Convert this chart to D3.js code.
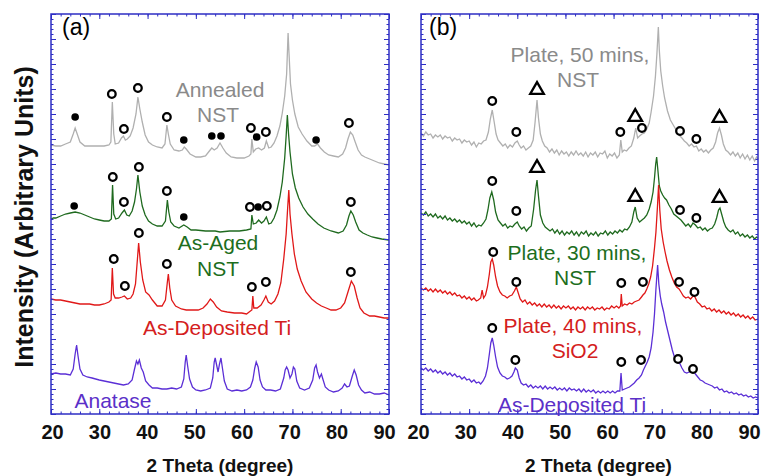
<!DOCTYPE html>
<html>
<head>
<meta charset="utf-8">
<script src="https://cdn.jsdelivr.net/npm/d3@7"></script>
<style>
  body { margin: 0; background: #fff; }
  svg { display: block; font-family: "Liberation Sans", Arial, sans-serif; }
</style>
</head>
<body>
<svg width="768" height="476"></svg>
<script>
// 2 theta tick labels
var thetaTicks = [20, 30, 40, 50, 60, 70, 80, 90]

// Panel (a) patterns, [2 theta, intensity]
var annealed = [[20,269],[21,268],[22,268],[23,270],[24,272],[24.6,280],[25,286],[25.5,279],[26,272],[27,268],[28,268],[29,268],[30,268],[31,268],[32,269],[32.4,272],[32.7,312],[33,280],[33.3,270],[34,271],[34.6,276],[35,278],[35.4,274],[35.8,275],[36.4,278],[37,286],[37.6,300],[38,317],[38.4,305],[38.9,292],[39.5,279],[40.2,272],[41,269],[42,267],[43,266],[43.6,270],[44,289],[44.3,280],[44.7,270],[45.5,264],[46.5,263],[47.2,264],[47.6,267],[48,265],[48.8,260],[50,257],[51,257],[52,258],[52.8,263],[53.3,266],[53.8,264],[54.4,266],[55,271],[55.6,266],[56.3,261],[57.3,257],[58.5,256],[60,256],[61,258],[61.4,260],[61.6,275],[61.9,262],[62.4,265],[63,266],[63.6,264],[64.2,266],[64.6,273],[65.1,266],[65.6,267],[66.2,271],[66.8,278],[67.4,288],[67.9,301],[68.4,318],[68.8,340],[69.1,381],[69.3,360],[69.6,330],[70,314],[70.5,300],[71.2,287],[72,280],[73,273],[74,268],[74.6,268],[75.2,270],[75.8,266],[76.6,262],[77.5,259],[78.5,258],[79.5,257],[80.4,260],[81,266],[81.5,275],[82,282],[82.5,279],[83,272],[83.6,264],[84.3,259],[85,257],[86,255],[87,253],[88,251],[89,250],[90,249]]
var asAged = [[20,195],[20.5,196],[21,196],[22,198],[23,200],[24,201],[25,202],[26,201],[27,199],[28,197],[29,195],[30,194],[31,193],[32,193],[32.5,195],[32.75,229],[33,200],[33.4,195],[34,196],[34.7,201],[35.2,204],[35.7,199],[36.2,198],[36.8,203],[37.3,212],[37.7,225],[38,239],[38.4,222],[38.9,208],[39.5,199],[40.2,193],[41,190],[42,188],[43,188],[43.7,193],[44.1,214],[44.4,202],[44.8,192],[45.5,188],[46.5,186],[47.5,189],[48.2,187],[49,184],[50,184],[52,183],[54,183],[55,182],[57,183],[59,183],[60.5,184],[61.4,185],[61.6,199],[61.9,190],[62.5,191],[63,194],[63.6,191],[64.1,193],[64.6,197],[65.1,190],[65.6,191],[66.2,196],[66.8,204],[67.4,217],[67.9,232],[68.4,256],[68.7,278],[68.95,299],[69.2,280],[69.5,262],[70,240],[70.6,226],[71.3,216],[72.2,207],[73.2,200],[74.2,195],[75.3,190],[76.5,186],[78,183],[79.5,181],[80.5,183],[81.2,189],[81.7,198],[82.1,203],[82.6,199],[83.1,192],[83.8,184],[84.6,181],[85.5,179],[86.5,177],[87.5,176],[88.5,175],[90,174]]
var depositedA = [[20,115],[21,114],[22,114],[23,113],[24,112],[25,111],[26,110],[27,110],[28,110],[29,109],[30,109],[31,110],[32,112],[32.45,114],[32.7,146],[32.95,120],[33.3,116],[34,116],[34.7,117],[35.2,118],[35.8,115],[36.5,116],[37,120],[37.5,130],[37.9,155],[38.15,171],[38.5,152],[39,134],[39.6,122],[40.3,119],[41,114],[42,108],[43,108],[43.7,114],[44.1,132],[44.3,140],[44.6,126],[45,114],[45.8,108],[47,105],[48,104],[49.5,104],[50.5,104],[51.5,106],[52.3,110],[53,115],[53.6,112],[54.3,107],[55.3,103],[56.5,102],[58,101],[59.5,101],[60.5,100],[61.3,103],[61.6,104],[61.8,118],[62,106],[62.7,106],[63.5,109],[64.1,114],[64.5,118],[65,112],[65.6,110],[66.3,113],[67,120],[67.6,131],[68.2,155],[68.7,180],[69,205],[69.25,224],[69.5,200],[69.9,180],[70.4,160],[71,145],[71.8,133],[72.8,122],[74,115],[75,111],[76,108],[77,106],[78,104],[79,104],[80,106],[80.8,111],[81.5,122],[82.2,133],[82.8,128],[83.4,116],[84,106],[84.8,101],[86,98],[87,98],[88,97],[89,96],[90,96]]
var anatase = [[20,40],[21,41],[22,40],[23,40],[24,39],[24.6,45],[25,60],[25.3,69],[25.6,58],[26,45],[26.6,39],[27.5,37],[28.5,36],[30,34],[31,33],[32,32],[33,31],[34,30],[35,29],[36,30],[36.8,34],[37.3,45],[37.7,53],[38,50],[38.3,54],[38.7,46],[39.1,42],[39.6,33],[40.3,29],[41,26],[42,26],[43,25],[44,25],[45,26],[46,25],[47,27],[47.5,35],[47.8,52],[48,59],[48.3,48],[48.7,35],[49.3,27],[50,24],[51,23],[52,24],[53,26],[53.5,36],[53.8,52],[54,56],[54.3,49],[54.6,42],[54.9,50],[55.2,56],[55.5,46],[55.9,33],[56.5,25],[57.5,23],[58.5,24],[59.5,23],[60.5,24],[61.3,27],[61.8,34],[62.2,46],[62.5,52],[62.9,47],[63.3,34],[63.8,27],[64.5,24],[65.5,24],[66.5,23],[67.5,25],[68.2,36],[68.5,44],[68.8,47],[69.1,44],[69.5,36],[69.9,40],[70.2,47],[70.5,45],[70.9,33],[71.5,26],[72.5,24],[73.5,26],[74.2,34],[74.6,46],[74.9,49],[75.2,42],[75.6,36],[76,40],[76.3,35],[76.8,27],[77.5,24],[78.5,22],[79.5,23],[80.3,26],[80.8,30],[81.3,27],[81.8,28],[82.4,38],[82.8,44],[83.2,39],[83.7,29],[84.3,24],[85,21],[86,22],[87,20],[88,20],[89,21],[90,19]]

// Panel (b) patterns
var plate50 = [[20,281],[20.5,278],[21,282],[21.5,279],[22,280],[22.5,276],[23,279],[23.5,277],[24,279],[24.5,275],[25,278],[25.5,276],[26,277],[26.5,273],[27,276],[27.5,274],[28,275],[28.5,271],[29,274],[29.5,272],[30,273],[30.5,269],[31,272],[31.5,267],[32,271],[32.5,270],[33,273],[33.5,274],[34,282],[34.4,295],[34.8,304],[35.2,292],[35.6,280],[36,274],[36.5,271],[37,268],[37.5,270],[38,266],[38.5,269],[39,267],[39.5,271],[40,273],[40.4,269],[40.8,266],[41.3,268],[41.8,264],[42.3,266],[42.8,268],[43.3,274],[43.7,292],[44.1,314],[44.4,296],[44.8,280],[45.2,273],[45.7,268],[46.2,266],[46.7,262],[47.2,265],[47.7,261],[48.2,264],[48.7,259],[49.2,263],[49.7,260],[50.2,262],[50.7,258],[51.2,262],[51.7,259],[52.2,263],[52.7,259],[53.2,261],[53.7,258],[54.2,262],[54.7,257],[55.2,261],[55.7,259],[56.2,262],[56.7,257],[57.2,261],[57.7,260],[58.2,263],[58.7,256],[59.2,260],[59.7,258],[60.2,261],[60.7,256],[61.2,259],[61.5,274],[61.8,262],[62.2,264],[62.7,263],[63.2,266],[63.7,268],[64.2,276],[64.6,286],[65,276],[65.4,278],[65.9,280],[66.4,281],[66.9,285],[67.4,291],[67.8,302],[68.3,318],[68.7,338],[69,360],[69.3,387],[69.5,364],[69.8,343],[70.2,328],[70.6,316],[71.2,303],[71.8,294],[72.4,289],[73,284],[73.6,279],[74.2,276],[74.7,273],[75.2,271],[75.7,268],[76.2,270],[76.7,267],[77.2,268],[77.7,263],[78.2,265],[78.7,262],[79.2,264],[79.7,261],[80.2,264],[80.7,266],[81.2,272],[81.6,281],[82,286],[82.4,279],[82.8,270],[83.3,264],[83.8,262],[84.3,259],[84.8,262],[85.3,258],[85.8,261],[86.3,256],[86.8,260],[87.3,255],[87.8,259],[88.3,254],[88.8,258],[89.3,253],[89.7,257],[90,255]]
var plate30 = [[20,201],[20.5,199],[21,202],[21.5,198],[22,200],[22.5,197],[23,200],[23.5,196],[24,198],[24.5,195],[25,198],[25.5,194],[26,196],[26.5,193],[27,195],[27.5,192],[28,194],[28.5,191],[29,193],[29.5,190],[30,192],[30.5,188],[31,191],[31.5,187],[32,189],[32.5,188],[33,191],[33.5,195],[33.9,204],[34.3,216],[34.7,222],[35.1,214],[35.5,202],[36,194],[36.5,191],[37,188],[37.5,190],[38,186],[38.5,188],[39,187],[39.5,190],[40,192],[40.4,188],[40.9,185],[41.4,187],[41.9,183],[42.4,186],[42.9,188],[43.4,205],[43.8,224],[44.1,234],[44.4,218],[44.8,199],[45.3,191],[45.8,187],[46.3,185],[46.8,183],[47.3,185],[47.8,181],[48.3,184],[48.8,180],[49.3,183],[49.8,179],[50.3,182],[50.8,180],[51.3,183],[51.8,179],[52.3,182],[52.8,178],[53.3,182],[53.8,180],[54.3,183],[54.8,178],[55.3,181],[55.8,179],[56.3,182],[56.8,178],[57.3,181],[57.8,180],[58.3,183],[58.8,179],[59.3,182],[59.8,180],[60.3,183],[60.8,181],[61.3,184],[61.8,182],[62.3,185],[62.8,184],[63.3,187],[63.8,192],[64.2,202],[64.5,207],[64.9,196],[65.4,192],[65.9,194],[66.4,196],[66.9,199],[67.4,205],[67.8,212],[68.2,222],[68.5,236],[68.75,250],[68.95,257],[69.2,244],[69.5,228],[69.8,223],[70.2,219],[70.6,216],[71,214],[71.5,209],[72,205],[72.5,200],[73,198],[73.5,196],[74,194],[74.5,191],[75,188],[75.5,190],[76,187],[76.5,191],[77,189],[77.5,186],[78,187],[78.5,184],[79,186],[79.5,183],[80,185],[80.5,186],[81,190],[81.4,196],[81.8,204],[82.1,206],[82.5,199],[82.9,192],[83.3,187],[83.8,184],[84.3,182],[84.8,184],[85.3,180],[85.8,182],[86.3,178],[86.8,180],[87.3,177],[87.8,179],[88.3,176],[88.8,178],[89.3,175],[89.7,177],[90,176]]
var plate40 = [[20,126],[20.5,124],[21,126],[21.5,123],[22,125],[22.5,122],[23,125],[23.5,122],[24,124],[24.5,121],[25,123],[25.5,120],[26,122],[26.5,119],[27,121],[27.5,118],[28,119],[28.5,116],[29,118],[29.5,115],[30,117],[30.5,114],[31,116],[31.5,113],[31.9,114],[32.4,116],[32.7,124],[33,116],[33.4,119],[33.8,127],[34.2,140],[34.5,152],[34.8,155],[35.1,149],[35.5,137],[35.9,128],[36.4,122],[36.9,119],[37.4,118],[37.9,116],[38.4,118],[38.9,119],[39.4,123],[39.8,127],[40.2,121],[40.6,115],[41.1,112],[41.6,114],[42.1,110],[42.6,112],[43.1,109],[43.6,111],[44.1,108],[44.6,110],[45.1,107],[45.6,110],[46.1,107],[46.6,109],[47.1,106],[47.6,109],[48.1,106],[48.6,108],[49.1,105],[49.6,108],[50.1,106],[50.6,108],[51.1,105],[51.6,107],[52.1,104],[52.6,107],[53.1,105],[53.6,107],[54.1,104],[54.6,107],[55.1,105],[55.6,107],[56.1,104],[56.6,106],[57.1,105],[57.6,107],[58.1,104],[58.6,106],[59.1,105],[59.6,108],[60.1,106],[60.6,108],[61.1,106],[61.45,108],[61.6,120],[61.8,108],[62.3,110],[62.8,109],[63.3,111],[63.8,110],[64.3,112],[64.8,113],[65.3,114],[65.8,117],[66.1,119],[66.5,121],[66.9,125],[67.3,130],[67.7,137],[68.1,148],[68.5,166],[68.8,182],[69.1,206],[69.35,229],[69.6,204],[69.9,185],[70.3,172],[70.7,162],[71.1,153],[71.6,144],[72.1,137],[72.6,131],[73.1,127],[73.6,125],[74,122],[74.5,118],[75,116],[75.5,117],[76,115],[76.5,118],[76.9,117],[77.4,112],[77.9,110],[78.4,107],[78.9,108],[79.4,105],[79.9,106],[80.4,103],[80.9,105],[81.4,102],[81.9,104],[82.4,101],[82.9,103],[83.4,100],[83.9,102],[84.4,99],[84.9,101],[85.4,98],[85.9,100],[86.4,97],[86.9,99],[87.4,96],[87.9,98],[88.4,95],[88.9,97],[89.4,94],[90,95]]
var depositedB = [[20,46],[20.5,44],[21,46],[21.5,43],[22,45],[22.5,42],[23,44],[23.5,41],[24,43],[24.5,40],[25,42],[25.5,39],[26,41],[26.5,38],[27,40],[27.5,37],[28,38],[28.5,35],[29,37],[29.5,34],[30,35],[30.5,32],[31,34],[31.5,31],[32,32],[32.4,30],[32.9,33],[33.4,38],[33.8,46],[34.2,60],[34.5,71],[34.8,76],[35.1,69],[35.5,57],[35.9,47],[36.4,41],[36.9,38],[37.4,37],[37.9,35],[38.4,36],[38.9,38],[39.3,42],[39.6,46],[40,44],[40.4,36],[40.8,31],[41.3,29],[41.8,30],[42.3,27],[42.8,29],[43.3,26],[43.8,28],[44.3,26],[44.8,28],[45.3,25],[45.8,28],[46.3,25],[46.8,27],[47.3,25],[47.8,27],[48.3,24],[48.8,26],[49.3,24],[49.8,26],[50.3,23],[50.8,26],[51.3,24],[51.8,25],[52.3,23],[52.8,25],[53.3,22],[53.8,25],[54.3,22],[54.8,24],[55.3,22],[55.8,24],[56.3,21],[56.8,23],[57.3,21],[57.8,23],[58.3,21],[58.8,23],[59.3,21],[59.8,23],[60.3,21],[60.8,23],[61.3,23],[61.55,41],[61.8,24],[62.3,25],[62.8,26],[63.3,27],[63.8,29],[64.3,31],[64.8,34],[65.3,36],[65.8,39],[66.2,44],[66.6,48],[67,52],[67.4,57],[67.8,66],[68.2,82],[68.5,100],[68.8,125],[69.15,149],[69.4,130],[69.7,118],[70,110],[70.4,102],[70.8,92],[71.2,84],[71.7,74],[72.2,64],[72.7,56],[73.2,53],[73.7,51],[74.2,46],[74.7,42],[75.2,41],[75.7,42],[76.2,43],[76.6,43],[77,40],[77.5,37],[78,34],[78.5,33],[79,31],[79.5,30],[80,29],[80.5,28],[81,26],[81.5,27],[82,24],[82.5,25],[83,22],[83.5,23],[84,21],[84.5,22],[85,20],[85.5,21],[86,19],[86.5,20],[87,18],[87.5,19],[88,17],[88.5,18],[89,16],[89.5,17],[90,16]]

// Phase markers: open circle, filled dot, triangle
var openA = [[32.6,320],[35.1,285],[38,326],[44,297],[61.4,286],[64.5,282],[81.7,291],
  [32.8,237],[35.1,212],[38.2,247],[44,223],[61.2,207],[64.7,208],[82.1,212],
  [33,155],[35.3,128],[38.2,181],[44,150],[61.6,127],[64.5,132],[82.1,142]]
var dotA = [[25,297],[47.5,274],[53.3,278],[55.2,278],[62.6,277],[74.9,274],
  [24.8,208],[47.5,197],[62.9,207]]
var openB = [[34.8,313],[39.8,282],[61.4,282],[65.9,286],[73.8,283],[77.2,275],
  [34.8,233],[39.8,203],[73.8,204],[77.2,196],
  [35,162],[39.8,132],[61.6,131],[66.1,132],[73.6,132],[76.8,122],
  [34.8,86],[39.6,54],[61.6,52],[65.7,54],[73.4,55],[76.5,45]]
var triB = [[44.1,324],[64.5,297],[82,296],[44.1,246],[64.5,217],[82,216]]

var gray = '#b0b0b0', green = '#1f6a1f', red = '#e01818', purple = '#5b2fd6'
var frameBlue = '#2e2ec4'

var svg = d3.select('svg')

var y = d3.scaleLinear().domain([0, 400]).range([414, 14])

function drawPanel(left, right, labelShift, series, labels, markers) {
  var x = d3.scaleLinear().domain([20, 90]).range([left, right])
  var g = svg.append('g')

  var line = d3.line()
    .x(function(d) { return x(d[0]) })
    .y(function(d) { return y(d[1]) })

  series.forEach(function(s) {
    g.append('path')
      .datum(s.data)
      .attr('d', line)
      .attr('fill', 'none')
      .attr('stroke', s.color)
      .attr('stroke-width', 1.3)
  })

  // axes with inward ticks
  function addAxis(axis, tx, ty) {
    var a = g.append('g').attr('transform', 'translate(' + tx + ',' + ty + ')').call(axis)
    a.select('.domain').remove()
    a.selectAll('line').attr('stroke', frameBlue)
    return a
  }
  addAxis(d3.axisBottom(x).tickValues(d3.range(20, 91, 2)).tickSize(-2.5).tickFormat(''), 0, 414)
  addAxis(d3.axisTop(x).tickValues(d3.range(20, 91, 2)).tickSize(-2.5).tickFormat(''), 0, 14)
  addAxis(d3.axisTop(x).tickValues(thetaTicks).tickSize(-5).tickFormat(''), 0, 14)
  var bottom = addAxis(d3.axisBottom(x).tickValues(thetaTicks).tickSize(-5).tickPadding(11), 0, 414)
  // labels sit a little left of their ticks in the original
  bottom.selectAll('text')
    .attr('dx', function(d) { return labelShift - (d - 20) / 70 * 6 })
    .attr('fill', '#111')
    .style('font-size', '20px')
    .style('font-weight', 'bold')
    .style('font-family', '"Liberation Sans", Arial, sans-serif')

  var minorY = d3.range(0, 401, 5), majorY = d3.range(0, 401, 25)
  addAxis(d3.axisLeft(y).tickValues(minorY).tickSize(-2.5).tickFormat(''), left, 0)
  addAxis(d3.axisLeft(y).tickValues(majorY).tickSize(-5).tickFormat(''), left, 0)
  addAxis(d3.axisRight(y).tickValues(minorY).tickSize(-2.5).tickFormat(''), right, 0)
  addAxis(d3.axisRight(y).tickValues(majorY).tickSize(-5).tickFormat(''), right, 0)

  g.append('rect')
    .attr('x', left).attr('y', 14)
    .attr('width', right - left).attr('height', 400)
    .attr('fill', 'none')
    .attr('stroke', frameBlue)
    .attr('stroke-width', 1.5)

  // phase markers
  g.selectAll('circle.open')
    .data(markers.open)
    .enter().append('circle')
    .attr('cx', function(d) { return x(d[0]) })
    .attr('cy', function(d) { return y(d[1]) })
    .attr('r', 3.8)
    .attr('fill', '#fff')
    .attr('stroke', '#000')
    .attr('stroke-width', 2.3)
  g.selectAll('circle.dot')
    .data(markers.dot || [])
    .enter().append('circle')
    .attr('cx', function(d) { return x(d[0]) })
    .attr('cy', function(d) { return y(d[1]) })
    .attr('r', 3.8)
    .attr('fill', '#000')
  g.selectAll('path.tri')
    .data(markers.tri || [])
    .enter().append('path')
    .attr('d', d3.symbol().type(d3.symbolTriangle).size(80))
    .attr('transform', function(d) { return 'translate(' + x(d[0]) + ',' + y(d[1]) + ')' })
    .attr('fill', '#fff')
    .attr('stroke', '#000')
    .attr('stroke-width', 2.3)

  labels.forEach(function(l) {
    g.append('text')
      .attr('x', l.x).attr('y', l.y)
      .attr('text-anchor', l.anchor || 'middle')
      .attr('fill', l.color)
      .style('font-size', (l.size || 21) + 'px')
      .text(l.text)
  })

  svg.append('text')
    .attr('x', (left + right) / 2 + (left > 400 ? 9 : 0)).attr('y', 472)
    .attr('text-anchor', 'middle')
    .style('font-size', '19px')
    .style('font-weight', 'bold')
    .attr('fill', '#111')
    .text('2 Theta (degree)')
}

drawPanel(51, 389, 1,
  [{ data: annealed, color: gray }, { data: asAged, color: green },
   { data: depositedA, color: red }, { data: anatase, color: purple }],
  [{ text: '(a)', x: 62, y: 35, anchor: 'start', color: '#000', size: 23 },
   { text: 'Annealed', x: 220, y: 97, color: '#8a8a8a' },
   { text: 'NST', x: 218, y: 122, color: '#8a8a8a' },
   { text: 'As-Aged', x: 218, y: 250, color: '#1d6e1d' },
   { text: 'NST', x: 218, y: 276, color: '#1d6e1d' },
   { text: 'As-Deposited Ti', x: 217, y: 335, color: '#d42020' },
   { text: 'Anatase', x: 113, y: 408, color: '#5b30c8' }],
  { open: openA, dot: dotA })

drawPanel(421, 758, -3,
  [{ data: plate50, color: gray }, { data: plate30, color: green },
   { data: plate40, color: red }, { data: depositedB, color: purple }],
  [{ text: '(b)', x: 429, y: 35, anchor: 'start', color: '#000', size: 23 },
   { text: 'Plate, 50 mins,', x: 580, y: 62, color: '#8a8a8a' },
   { text: 'NST', x: 578, y: 87, color: '#8a8a8a' },
   { text: 'Plate, 30 mins,', x: 577, y: 260, color: '#1d6e1d' },
   { text: 'NST', x: 575, y: 285, color: '#1d6e1d' },
   { text: 'Plate, 40 mins,', x: 573, y: 333, color: '#d42020' },
   { text: 'SiO2', x: 575, y: 358, color: '#d42020' },
   { text: 'As-Deposited Ti', x: 572, y: 412, color: '#5b30c8' }],
  { open: openB, tri: triB })

svg.append('text')
  .attr('transform', 'translate(33,217) rotate(-90)')
  .attr('text-anchor', 'middle')
  .style('font-size', '25px')
  .style('font-weight', 'bold')
  .attr('fill', '#111')
  .text('Intensity (Arbitrary Units)')
</script>
</body>
</html>
